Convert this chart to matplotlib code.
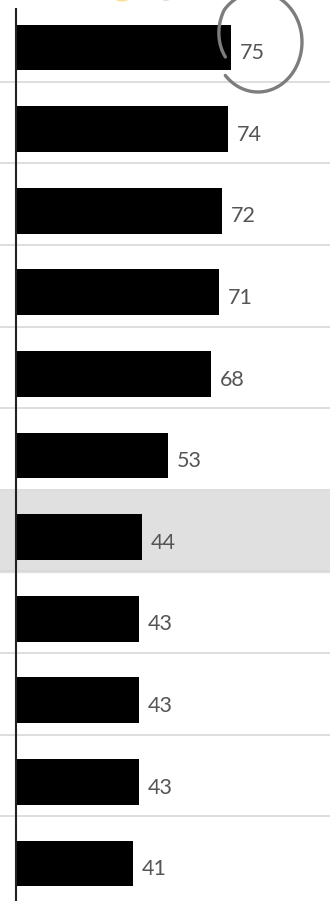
import numpy as np
import matplotlib.pyplot as plt
from matplotlib.patches import Ellipse

values = [75, 74, 72, 71, 68, 53, 44, 43, 43, 43, 41]
highlight = 6      # row with the grey band
circled = 0        # row with the hand drawn circle

W, H = 330, 901
fig = plt.figure(figsize=(W / 100, H / 100), dpi=100)
fig.patch.set_facecolor('white')

ax = fig.add_axes([0, 0, 1, 1])
px_per_unit = 2.865
row_px = 81.6
first_px = 47.5
ax.set_xlim(-16 / px_per_unit, (W - 16) / px_per_unit)
ax.set_ylim((H - first_px) / row_px, -first_px / row_px)
ax.axis('off')

rows = np.arange(len(values))

# grey band behind the highlighted row
ax.axhspan(highlight - 0.56, highlight + 0.43, color='#e0e0e0', zorder=0)

# row separators
for i in rows[:-1]:
    ax.axhline(i + 0.42, color='#d8d8d8', lw=1.2, zorder=1)

ax.barh(rows, values, height=0.56, color='black', zorder=2)

# left axis line
ax.plot([0, 0], [-0.49, (H - first_px) / row_px], color='#222222', lw=1.5,
        zorder=3, solid_capstyle='butt')

for i, v in zip(rows, values):
    ax.text(v + 3.0, i + 0.07, str(v), va='center', ha='left',
            fontsize=15.5, color='#555555', family=['Lato', 'DejaVu Sans'],
            zorder=4)

# overlay in pixel coordinates for the annotations
ov = fig.add_axes([0, 0, 1, 1])
ov.set_xlim(0, W)
ov.set_ylim(H, 0)
ov.axis('off')
ov.patch.set_alpha(0)

cy = 42
t = np.radians(np.linspace(222, 562, 200))
r = np.where(t < np.radians(500), 1.0,
             1.0 - 0.2 * (t - np.radians(500)) / np.radians(62))
cx, rx, ry = 258, 44, 50
ov.plot(cx + rx * r * np.cos(t), cy - ry * r * np.sin(t),
        color='#7d7d7d', lw=2.4, solid_capstyle='round')

# cut-off legend marks at the top edge
ov.add_patch(Ellipse((122, -5), 18, 12, color='#f7dc80', alpha=0.7))
ov.add_patch(Ellipse((166, -5), 14, 10, color='#9a9a9a', alpha=0.5))

fig.savefig('out.png', dpi=100, facecolor='white')
